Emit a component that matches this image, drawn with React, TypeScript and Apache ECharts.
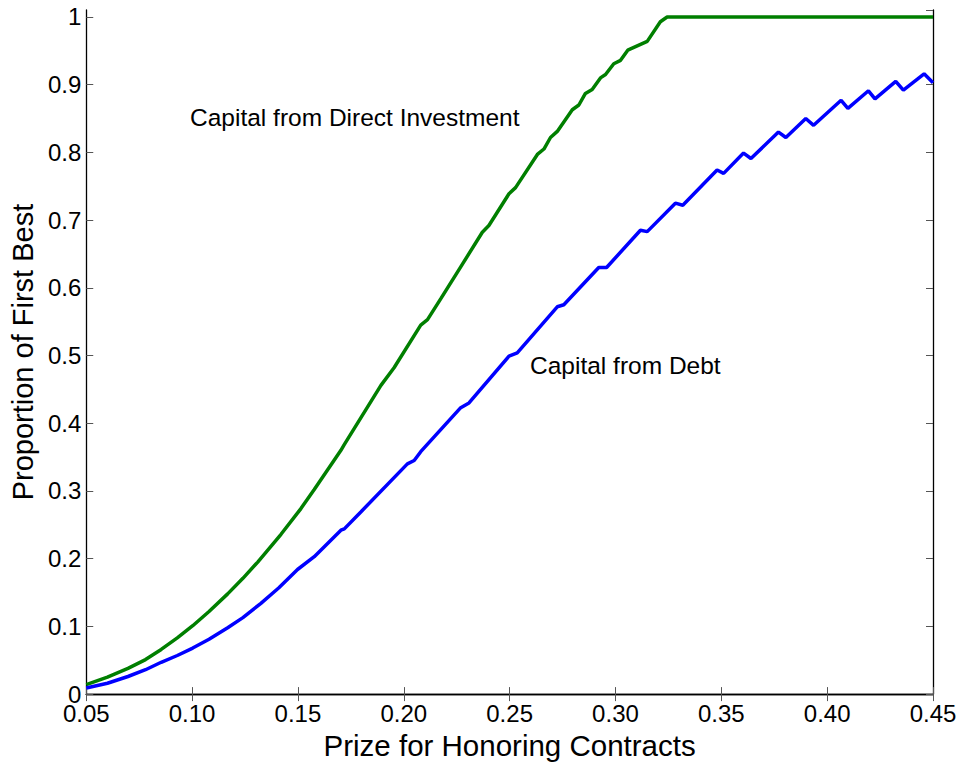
import React, { useEffect, useRef } from "react";
import * as echarts from "echarts";

// x positions (prize) and values (proportion of first best)
const debtX = [0.05, 0.06, 0.0697, 0.078, 0.0854, 0.093, 0.1003, 0.108, 0.1168, 0.124, 0.1325, 0.141, 0.1498, 0.1577, 0.1703, 0.1719, 0.1797, 0.2017, 0.2049, 0.208, 0.2269, 0.2308, 0.2497, 0.2536, 0.2725, 0.2756, 0.2921, 0.2958, 0.3118, 0.315, 0.3283, 0.3318, 0.348, 0.3511, 0.3605, 0.364, 0.377, 0.3805, 0.3899, 0.3936, 0.4066, 0.4098, 0.4195, 0.4226, 0.4324, 0.436, 0.4458, 0.45];
const debtY = [0.009, 0.016, 0.026, 0.036, 0.047, 0.057, 0.068, 0.081, 0.098, 0.113, 0.134, 0.157, 0.184, 0.203, 0.242, 0.244, 0.269, 0.34, 0.345, 0.358, 0.423, 0.43, 0.499, 0.504, 0.572, 0.575, 0.63, 0.63, 0.685, 0.683, 0.725, 0.722, 0.774, 0.769, 0.799, 0.791, 0.83, 0.822, 0.85, 0.84, 0.877, 0.865, 0.891, 0.879, 0.905, 0.892, 0.916, 0.903];

const directX = [0.05, 0.06, 0.0697, 0.078, 0.0854, 0.093, 0.1003, 0.108, 0.1168, 0.124, 0.131, 0.142, 0.1514, 0.1577, 0.1703, 0.1718, 0.1892, 0.1954, 0.208, 0.2112, 0.2175, 0.2269, 0.2371, 0.2402, 0.2497, 0.2528, 0.2631, 0.2662, 0.2693, 0.2725, 0.2796, 0.2827, 0.2858, 0.289, 0.2929, 0.2953, 0.2992, 0.3024, 0.3058, 0.315, 0.3212, 0.3244, 0.45];
const directY = [0.014, 0.025, 0.038, 0.051, 0.066, 0.083, 0.101, 0.122, 0.148, 0.171, 0.195, 0.236, 0.274, 0.302, 0.36, 0.368, 0.456, 0.482, 0.545, 0.553, 0.584, 0.631, 0.682, 0.692, 0.739, 0.748, 0.797, 0.805, 0.822, 0.831, 0.863, 0.87, 0.887, 0.893, 0.91, 0.915, 0.931, 0.936, 0.951, 0.964, 0.993, 1.0, 1.0];

const xTicks = { min: 0.05, max: 0.45, step: 0.05 };
const yTicks = { min: 0, max: 1.0103, step: 0.1 };

const seriesNames = ["Capital from Direct Investment", "Capital from Debt"];
const xTitle = "Prize for Honoring Contracts";
const yTitle = "Proportion of First Best";

const FONT = "'Liberation Sans', Arial, sans-serif";

export default function App() {
  const ref = useRef<HTMLDivElement>(null);

  useEffect(() => {
    if (!ref.current) return;
    const chart = echarts.init(ref.current, null, { renderer: "svg" });

    const pairs = (xs: number[], ys: number[]) => xs.map((x, i) => [x, ys[i]]);

    const tickStyle = { show: true, inside: true, length: 7, lineStyle: { color: "#555", width: 1 } };
    const lineStyle = { show: true, lineStyle: { color: "#000", width: 1.3 } };

    chart.setOption({
      animation: false,
      backgroundColor: "#fff",
      grid: { left: 85, right: 31, top: 10, bottom: 67, containLabel: false },
      xAxis: [
        {
          type: "value",
          min: xTicks.min,
          max: xTicks.max,
          interval: xTicks.step,
          position: "bottom",
          axisLine: lineStyle,
          axisTick: tickStyle,
          splitLine: { show: false },
          axisLabel: {
            color: "#000",
            fontSize: 24,
            lineHeight: 18,
            fontFamily: FONT,
            margin: 10,
            formatter: (v: number) => v.toFixed(2),
          },
          name: xTitle,
          nameLocation: "middle",
          nameGap: 30,
          nameTextStyle: { color: "#000", fontSize: 29.5, fontFamily: FONT },
        },
        {
          type: "value",
          min: xTicks.min,
          max: xTicks.max,
          interval: xTicks.step,
          position: "top",
          axisLine: lineStyle,
          axisTick: tickStyle,
          splitLine: { show: false },
          axisLabel: { show: false },
        },
      ],
      yAxis: [
        {
          type: "value",
          min: yTicks.min,
          max: yTicks.max,
          interval: yTicks.step,
          position: "left",
          axisLine: lineStyle,
          axisTick: tickStyle,
          splitLine: { show: false },
          axisLabel: {
            color: "#000",
            fontSize: 24,
            fontFamily: FONT,
            margin: 5,
            showMaxLabel: false,
            formatter: (v: number) => {
              if (v > 1.001) return "";
              if (Math.abs(v) < 1e-9) return "0";
              if (Math.abs(v - 1) < 1e-9) return "1";
              return v.toFixed(1);
            },
          },
          name: yTitle,
          nameLocation: "middle",
          nameGap: 41,
          nameTextStyle: { color: "#000", fontSize: 29, fontFamily: FONT },
        },
        {
          type: "value",
          min: yTicks.min,
          max: yTicks.max,
          interval: yTicks.step,
          position: "right",
          axisLine: lineStyle,
          axisTick: tickStyle,
          splitLine: { show: false },
          axisLabel: { show: false },
        },
      ],
      series: [
        {
          name: seriesNames[0],
          type: "line",
          data: pairs(directX, directY),
          showSymbol: false,
          lineStyle: { color: "#007f00", width: 3.5 },
          itemStyle: { color: "#007f00" },
          z: 3,
        },
        {
          name: seriesNames[1],
          type: "line",
          data: pairs(debtX, debtY),
          showSymbol: false,
          lineStyle: { color: "#0000ff", width: 3.5 },
          itemStyle: { color: "#0000ff" },
          z: 4,
        },
      ],
      graphic: [
        {
          type: "text",
          left: 190,
          top: 105,
          style: { text: seriesNames[0], fill: "#000", fontSize: 24.5, fontFamily: FONT },
        },
        {
          type: "text",
          left: 530,
          top: 353,
          style: { text: seriesNames[1], fill: "#000", fontSize: 24.5, fontFamily: FONT },
        },
      ],
    });

    return () => chart.dispose();
  }, []);

  return (
    <div
      ref={ref}
      style={{ position: "absolute", left: 0, top: 0, width: 964, height: 765 }}
    />
  );
}
